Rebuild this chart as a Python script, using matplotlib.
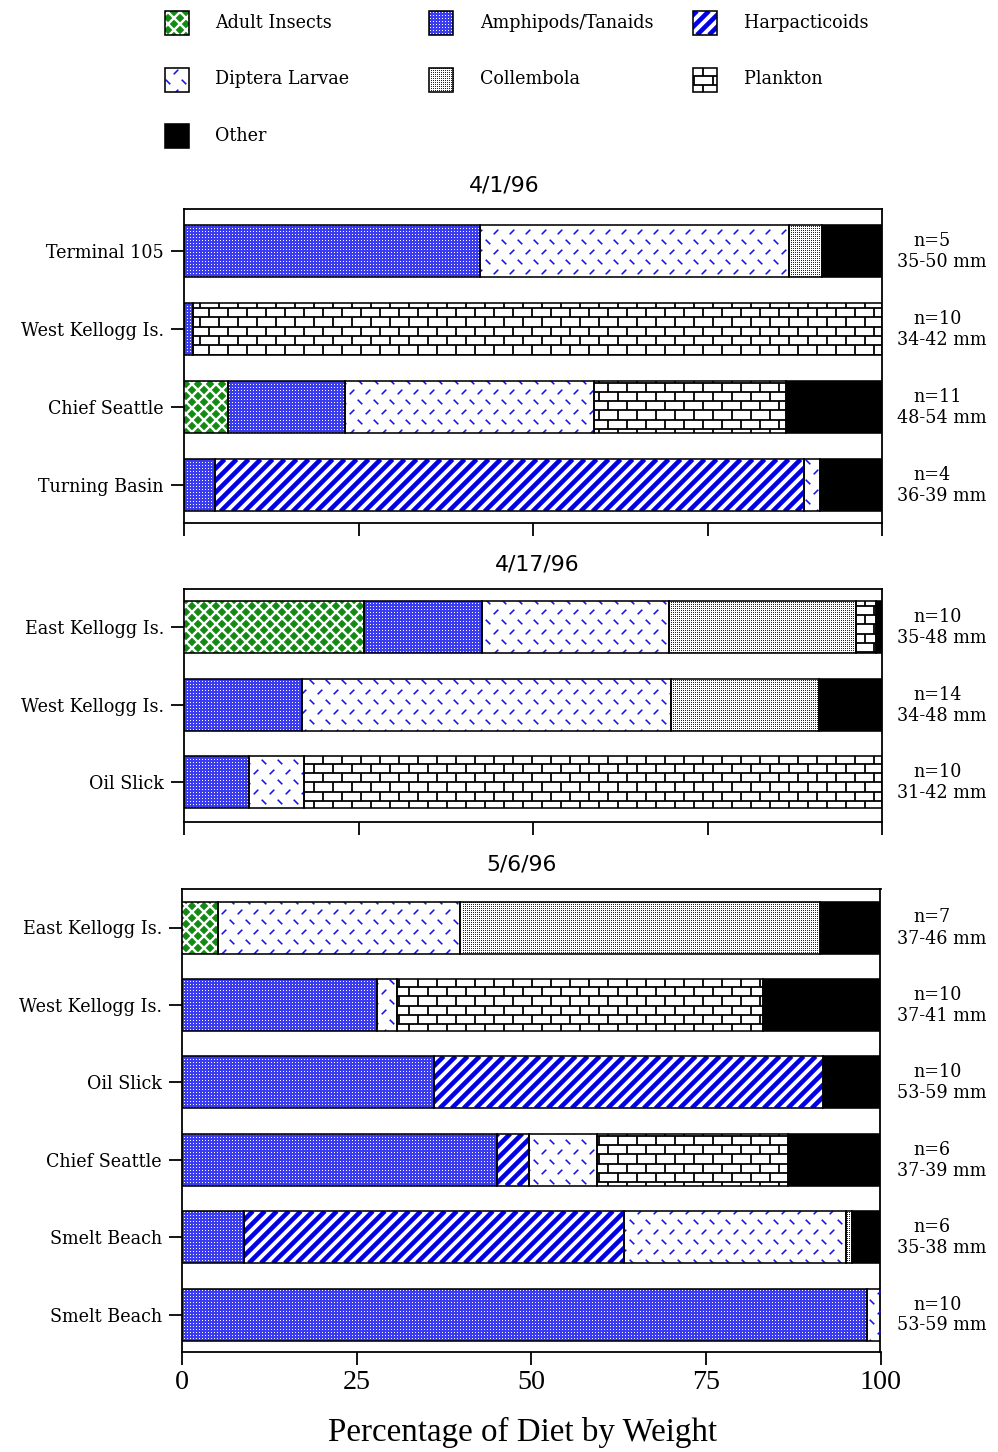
import numpy as np
import matplotlib
matplotlib.use("Agg")
import matplotlib.pyplot as plt
from matplotlib.collections import LineCollection
from matplotlib.patches import Rectangle
from matplotlib.transforms import IdentityTransform

# ---------------------------------------------------------------- data
categories = ["Adult Insects", "Amphipods/Tanaids", "Harpacticoids",
              "Diptera Larvae", "Collembola", "Plankton", "Other"]

dates = ["4/1/96", "4/17/96", "5/6/96"]

# 4/1/96
sites_a = ["Terminal 105", "West Kellogg Is.", "Chief Seattle", "Turning Basin"]
n_a = ["n=5", "n=10", "n=11", "n=4"]
len_a = ["35-50 mm", "34-42 mm", "48-54 mm", "36-39 mm"]
adult_a = [0.0, 0.0, 6.3, 0.0]
amphi_a = [42.4, 1.3, 16.8, 4.4]
harp_a = [0.0, 0.0, 0.0, 84.4]
dipt_a = [44.3, 0.0, 35.7, 2.3]
coll_a = [4.7, 0.0, 0.0, 0.0]
plank_a = [0.0, 98.7, 27.5, 0.0]
other_a = [8.6, 0.0, 13.7, 8.9]

# 4/17/96
sites_b = ["East Kellogg Is.", "West Kellogg Is.", "Oil Slick"]
n_b = ["n=10", "n=14", "n=10"]
len_b = ["35-48 mm", "34-48 mm", "31-42 mm"]
adult_b = [25.8, 0.0, 0.0]
amphi_b = [16.9, 16.9, 9.3]
harp_b = [0.0, 0.0, 0.0]
dipt_b = [26.8, 52.9, 7.9]
coll_b = [26.8, 21.2, 0.0]
plank_b = [2.8, 0.0, 82.8]
other_b = [0.9, 9.0, 0.0]

# 5/6/96
sites_c = ["East Kellogg Is.", "West Kellogg Is.", "Oil Slick",
           "Chief Seattle", "Smelt Beach", "Smelt Beach"]
n_c = ["n=7", "n=10", "n=10", "n=6", "n=6", "n=10"]
len_c = ["37-46 mm", "37-41 mm", "53-59 mm", "37-39 mm", "35-38 mm", "53-59 mm"]
adult_c = [5.2, 0.0, 0.0, 0.0, 0.0, 0.0]
amphi_c = [0.0, 27.9, 36.1, 45.1, 8.9, 98.1]
harp_c = [0.0, 0.0, 55.6, 4.6, 54.4, 0.0]
dipt_c = [34.6, 2.9, 0.0, 9.7, 31.7, 1.9]
coll_c = [51.5, 0.0, 0.0, 0.0, 0.9, 0.0]
plank_c = [0.0, 52.4, 0.0, 27.4, 0.0, 0.0]
other_c = [8.7, 16.8, 8.3, 13.2, 4.1, 0.0]

x_ticks = [0, 25, 50, 75, 100]
x_label = "Percentage of Diet by Weight"

# ---------------------------------------------------------------- styling
W, H, DPI = 998, 1452, 72
LABEL_FONT = dict(family="DejaVu Serif", fontsize=17.5)
BASE_FILL = {
    "Adult Insects": "#138a13",
    "Amphipods/Tanaids": "#3c3cef",
    "Harpacticoids": "white",
    "Diptera Larvae": "white",
    "Collembola": "white",
    "Plankton": "white",
    "Other": "black",
}


def _diag(x0, x1, y0, y1, period, kind):
    segs = []
    if kind == "/":
        for k in range(int(np.floor((x0 - y1) / period)) - 1,
                       int(np.ceil((x1 - y0) / period)) + 2):
            segs.append(((y0 + k * period, y0), (y1 + k * period, y1)))
    else:
        for k in range(int(np.floor((x0 + y0) / period)) - 1,
                       int(np.ceil((x1 + y1) / period)) + 2):
            segs.append(((k * period - y0, y0), (k * period - y1, y1)))
    return segs


def _dots(ax, patch, x0, x1, y0, y1, step, side, color):
    xs = np.arange(np.ceil(x0 / step) * step, x1, step) + 0.5
    ys = np.arange(np.ceil(y0 / step) * step, y1, step) + 0.5
    gx, gy = np.meshgrid(xs, ys)
    sc = ax.scatter(gx.ravel(), gy.ravel(), s=side ** 2, marker="s", c=color,
                    linewidths=0, transform=IdentityTransform(), zorder=3)
    sc.set_clip_path(patch)


def add_texture(ax, patch, cat):
    """Overlay the fill pattern of a diet category, clipped to a patch."""
    bb = patch.get_extents()
    x0, x1, y0, y1 = bb.x0, bb.x1, bb.y0, bb.y1
    colls = []
    if cat == "Adult Insects":
        segs = _diag(x0, x1, y0, y1, 12, "/") + _diag(x0, x1, y0, y1, 12, "\\")
        colls.append(LineCollection(segs, colors="white", linewidths=2.4))
    elif cat == "Harpacticoids":
        segs = _diag(x0, x1, y0, y1, 12, "/")
        colls.append(LineCollection(segs, colors="#0000e6", linewidths=4.6))
    elif cat == "Diptera Larvae":
        rs, cs, d = 10.0, 16.0, 2.3
        segs = []
        for r in range(int(np.floor(y0 / rs)) - 1, int(np.ceil(y1 / rs)) + 1):
            yy = r * rs
            off = (r % 2) * cs / 2
            sgn = 1 if r % 2 == 0 else -1
            for c in range(int(np.floor((x0 - off) / cs)) - 1,
                           int(np.ceil((x1 - off) / cs)) + 1):
                xx = c * cs + off
                segs.append(((xx - d, yy - d * sgn), (xx + d, yy + d * sgn)))
        colls.append(LineCollection(segs, colors="#1515e0", linewidths=1.6))
    elif cat == "Plankton":
        rs, bw = 9.3, 19.0
        segs = []
        for r in range(int(np.floor(y0 / rs)) - 1, int(np.ceil(y1 / rs)) + 1):
            ya, yb = r * rs, (r + 1) * rs
            segs.append(((x0 - 5, ya), (x1 + 5, ya)))
            off = (r % 2) * bw / 2
            for c in range(int(np.floor((x0 - off) / bw)) - 1,
                           int(np.ceil((x1 - off) / bw)) + 1):
                xx = c * bw + off
                segs.append(((xx, ya), (xx, yb)))
        colls.append(LineCollection(segs, colors="black", linewidths=1.8))
    elif cat == "Amphipods/Tanaids":
        _dots(ax, patch, x0, x1, y0, y1, 3, 1.0, "white")
    elif cat == "Collembola":
        _dots(ax, patch, x0, x1, y0, y1, 2, 1.0, "#222222")
    for lc in colls:
        lc.set_transform(IdentityTransform())
        lc.set_zorder(3)
        ax.add_collection(lc, autolim=False)
        lc.set_clip_path(patch)


def draw_panel(ax, title, title_x, sites, ns, lens, series, c0, spacing,
               top_px, bot_px, show_xlabels):
    nrow = len(sites)
    ypos = np.arange(nrow)
    bar_h = 52.0 / spacing
    left = np.zeros(nrow)
    placed = []
    for cat, vals in zip(categories, series):
        vals = np.asarray(vals, dtype=float)
        keep = vals > 0
        if keep.any():
            bars = ax.barh(ypos[keep], vals[keep], left=left[keep], height=bar_h,
                           color=BASE_FILL[cat], edgecolor="none", linewidth=0,
                           zorder=2)
            placed.append((cat, bars, ypos[keep], vals[keep], left[keep].copy()))
        left += vals
    ax.set_xlim(0, 100)
    ax.set_ylim(nrow - 1 + (bot_px - (c0 + (nrow - 1) * spacing)) / spacing,
                -(c0 - top_px) / spacing)
    for cat, bars, yk, vk, lk in placed:
        for p in bars.patches:
            add_texture(ax, p, cat)
        ax.barh(yk, vk, left=lk, height=bar_h, facecolor="none",
                edgecolor="black", linewidth=1.6, zorder=4)

    for s in ax.spines.values():
        s.set_linewidth(1.8)
    ax.set_yticks(ypos)
    ax.set_yticklabels(sites, **LABEL_FONT)
    ax.set_xticks(x_ticks)
    ax.tick_params(axis="both", direction="out", length=13, width=1.8)
    ax.tick_params(axis="y", pad=7)
    if show_xlabels:
        ax.set_xticklabels([str(t) for t in x_ticks], family="Liberation Serif",
                           fontsize=28)
        ax.tick_params(axis="x", pad=5)
        ax.set_xlabel(x_label, family="Liberation Serif", fontsize=33)
        ax.xaxis.set_label_coords(0.488, -(1417 - bot_px) / (bot_px - top_px))
    else:
        ax.tick_params(axis="x", labelbottom=False)

    fig.text(title_x / W, 1 - (top_px - 24) / H, title, ha="center", va="center",
             family="DejaVu Sans", fontsize=22)
    right_px = ax.get_position().x1 * W
    for y, n, ln in zip(ypos, ns, lens):
        ax.annotate(n, xy=(1, y), xycoords=ax.get_yaxis_transform(),
                    xytext=(913 - right_px, 10), textcoords="offset pixels",
                    ha="left", va="center", **LABEL_FONT)
        ax.annotate(ln, xy=(1, y), xycoords=ax.get_yaxis_transform(),
                    xytext=(897 - right_px, -11), textcoords="offset pixels",
                    ha="left", va="center", **LABEL_FONT)


def axes_px(left, right, top, bottom):
    return fig.add_axes([left / W, 1 - bottom / H, (right - left) / W,
                         (bottom - top) / H])


fig = plt.figure(figsize=(W / DPI, H / DPI), dpi=DPI, facecolor="white")

ax1 = axes_px(184, 882, 209.3, 523.3)
draw_panel(ax1, dates[0], 504, sites_a, n_a, len_a,
           [adult_a, amphi_a, harp_a, dipt_a, coll_a, plank_a, other_a],
           250.5, 78.3, 209.3, 523.3, False)

ax2 = axes_px(184, 882, 589, 822)
draw_panel(ax2, dates[1], 537, sites_b, n_b, len_b,
           [adult_b, amphi_b, harp_b, dipt_b, coll_b, plank_b, other_b],
           627.2, 77.5, 589, 822, False)

ax3 = axes_px(182, 880.5, 889, 1352)
draw_panel(ax3, dates[2], 521, sites_c, n_c, len_c,
           [adult_c, amphi_c, harp_c, dipt_c, coll_c, plank_c, other_c],
           927.5, 77.4, 889, 1352, True)

# ---------------------------------------------------------------- legend
leg = fig.add_axes([0, 0, 1, 1], zorder=-1)
leg.set_xlim(0, W)
leg.set_ylim(H, 0)
leg.axis("off")
box_x = [165, 429, 693]
text_x = [215, 480, 744]
row_y = [23, 79.5, 136]
for i, cat in enumerate(categories):
    r, c = divmod(i, 3)
    sq = Rectangle((box_x[c], row_y[r] - 12), 24, 24, facecolor=BASE_FILL[cat],
                   edgecolor="none", zorder=2)
    leg.add_patch(sq)
    add_texture(leg, sq, cat)
    leg.add_patch(Rectangle((box_x[c], row_y[r] - 12), 24, 24, facecolor="none",
                            edgecolor="black", linewidth=1.6, zorder=4))
    leg.text(text_x[c], row_y[r], cat, ha="left", va="center", **LABEL_FONT)

fig.savefig("out.png", dpi=DPI, facecolor="white")
